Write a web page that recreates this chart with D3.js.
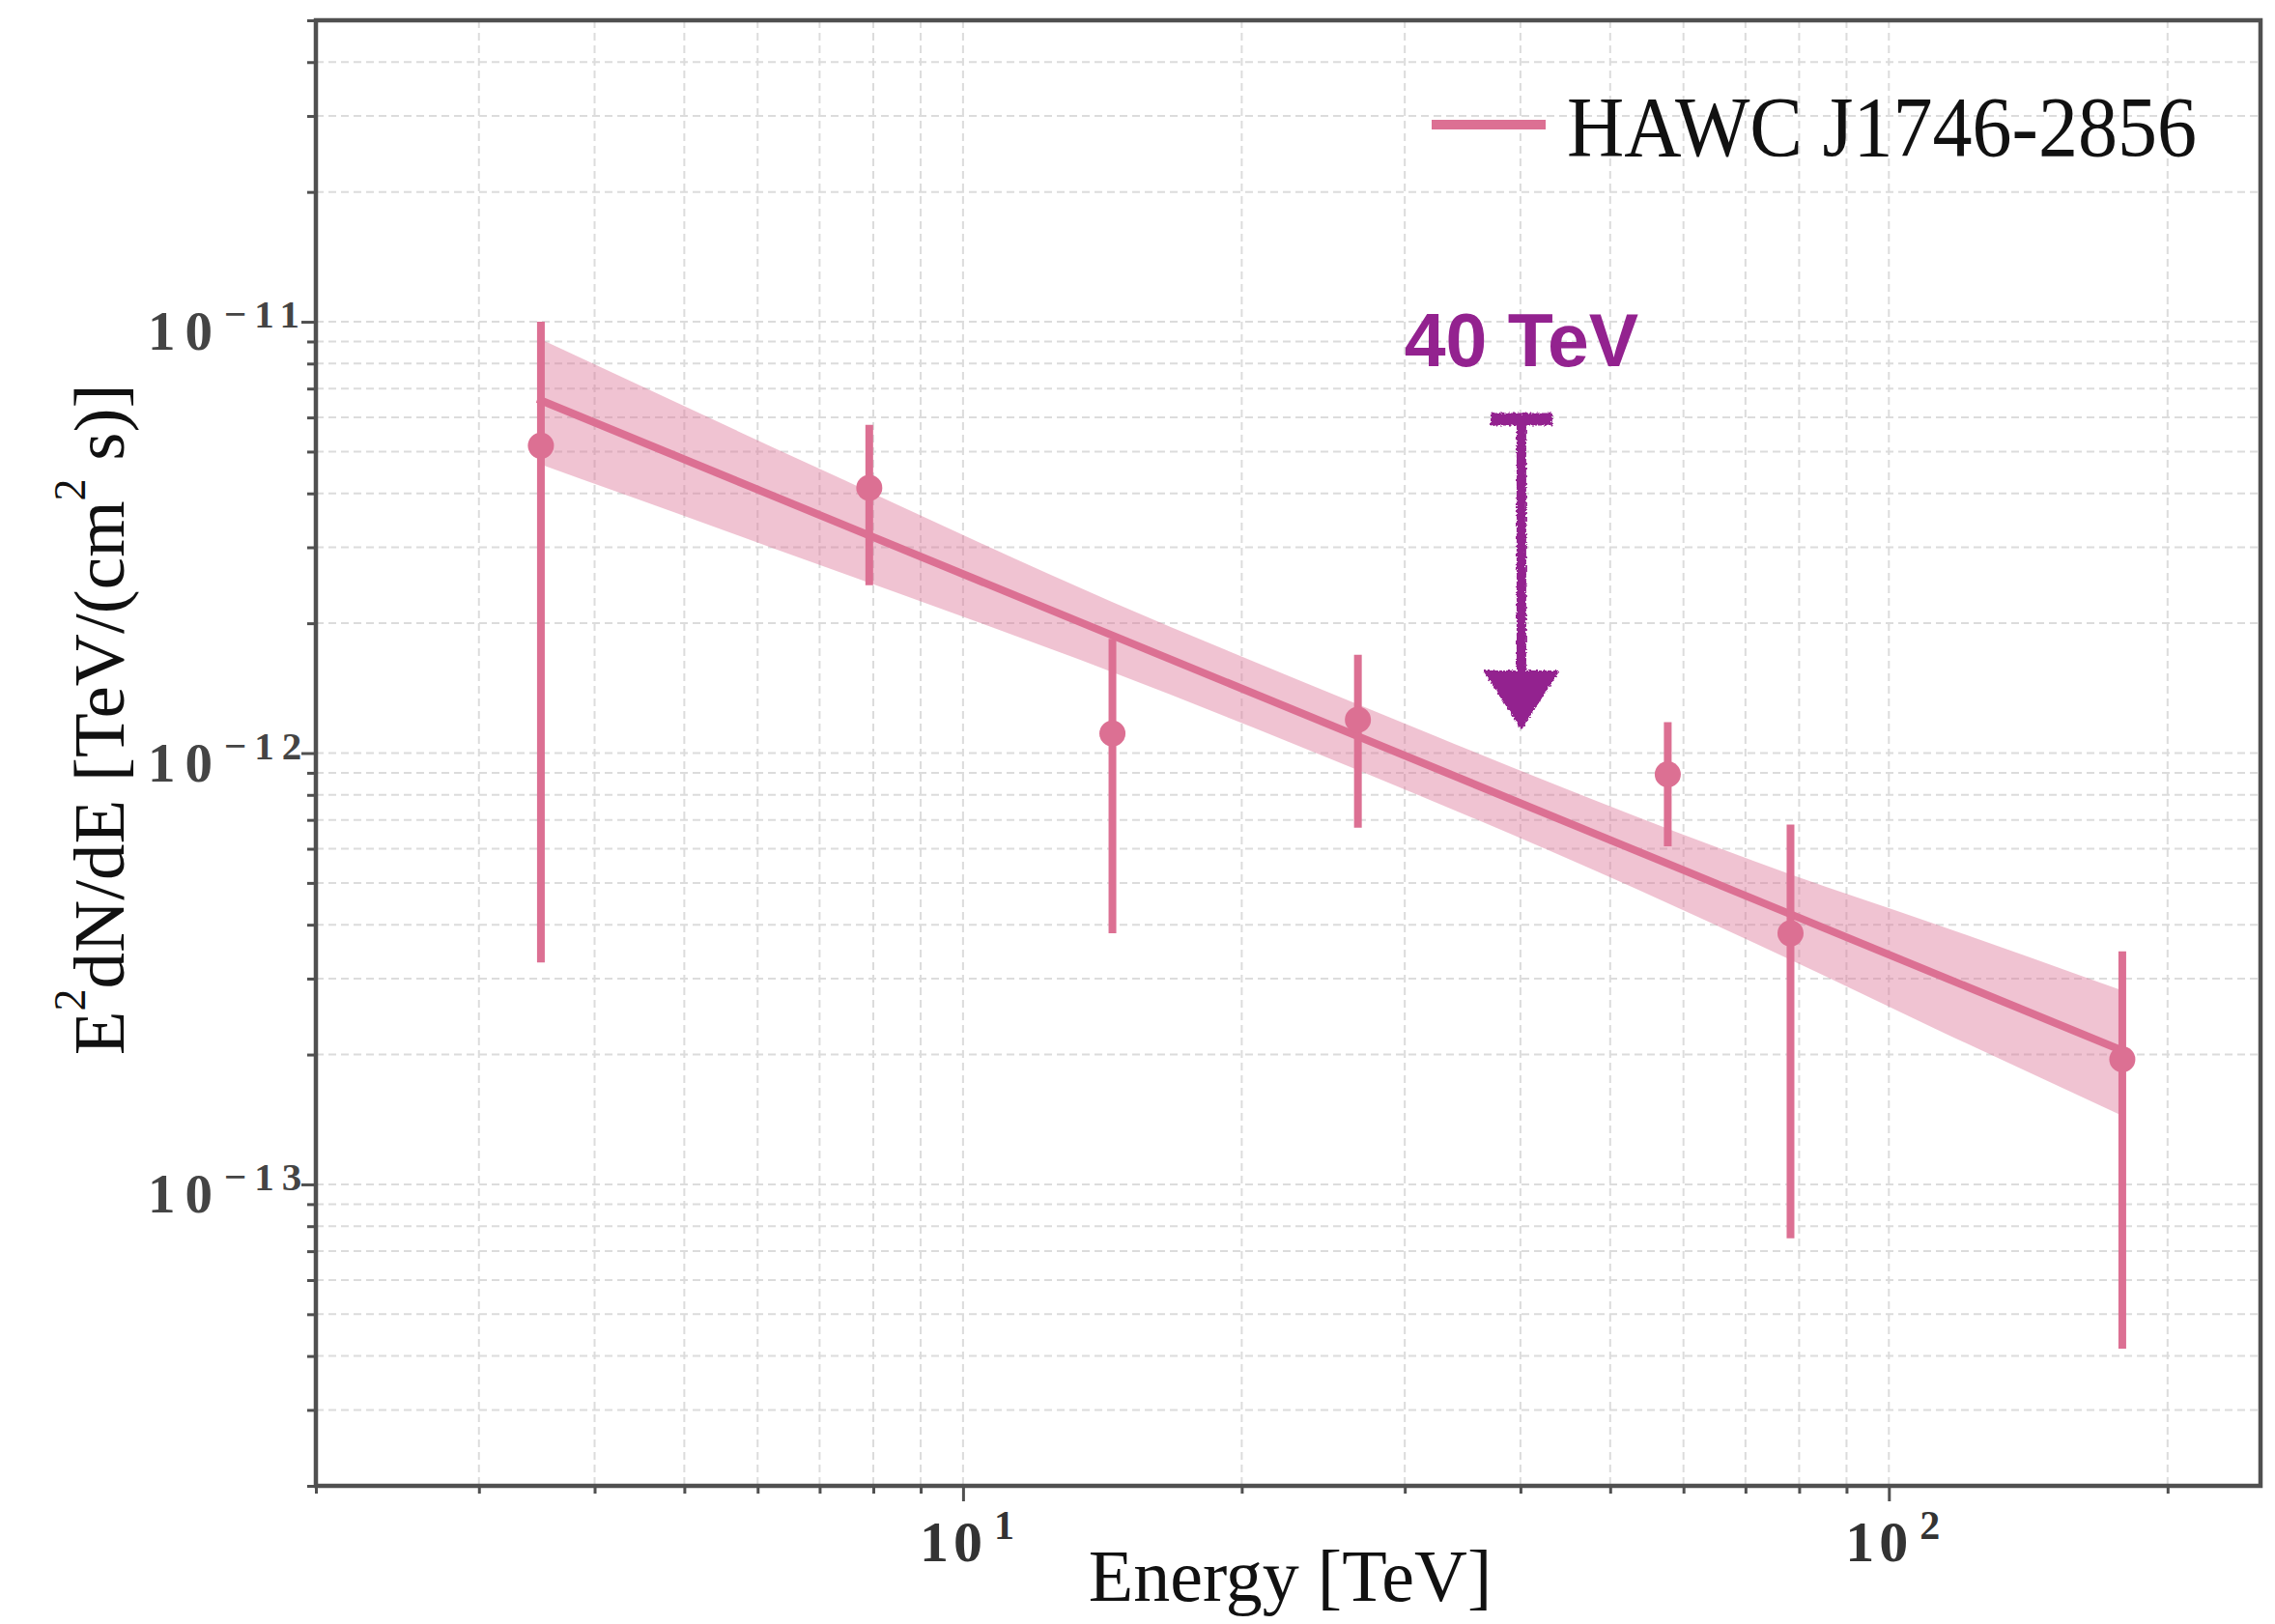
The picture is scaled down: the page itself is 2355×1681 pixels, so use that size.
<!DOCTYPE html>
<html><head><meta charset="utf-8">
<script src="https://cdn.jsdelivr.net/npm/d3@7/dist/d3.min.js"></script>
<style>html,body{margin:0;padding:0;background:#fff}svg{display:block}</style>
</head><body>
<script>
// ---------- data ----------
const energy   = [3.5, 7.92, 14.5, 26.7, 57.7, 78.3, 178.7];
const flux     = [5.16e-12, 4.12e-12, 1.11e-12, 1.195e-12, 8.93e-13, 3.82e-13, 1.95e-13];
const fluxHigh = [1.0e-11, 5.77e-12, 1.84e-12, 1.69e-12, 1.18e-12, 6.83e-13, 3.47e-13];
const fluxLow  = [3.27e-13, 2.45e-12, 3.82e-13, 6.71e-13, 6.08e-13, 7.5e-14, 4.16e-14];

const fitE     = [3.47, 179];
const fitFlux  = [6.62e-12, 2.04e-13];

const bandE     = [3.5, 7, 14.5, 27, 43, 78, 112, 179];
const bandUpper = [9.1e-12, 4.56e-12, 2.24e-12, 1.285e-12, 8.56e-13, 5.25e-13, 4.02e-13, 2.81e-13];
const bandLower = [4.67e-12, 2.73e-12, 1.54e-12, 9.04e-13, 5.94e-13, 3.33e-13, 2.30e-13, 1.44e-13];

const arrowE = [40];
const arrowFlux = [6.0e-12, 1.15e-12];   // top bar, tip
const arrowLabel = ["40 TeV"];

const xDomain = [2, 252];
const yDomain = [2e-14, 5e-11];
const xMajorTicks = [10, 100];
const xMinorTicks = [2,3,4,5,6,7,8,9,20,30,40,50,60,70,80,90,200];
const xTickBase = ["10", "10"];
const xTickExp  = ["1", "2"];
const yMajorTicks = [1e-13, 1e-12, 1e-11];
const yMinorTicks = [2e-14,3e-14,4e-14,5e-14,6e-14,7e-14,8e-14,9e-14,
                     2e-13,3e-13,4e-13,5e-13,6e-13,7e-13,8e-13,9e-13,
                     2e-12,3e-12,4e-12,5e-12,6e-12,7e-12,8e-12,9e-12,
                     2e-11,3e-11,4e-11,5e-11];
const yTickBase = ["10", "10", "10"];
const yTickExp  = ["\u221213", "\u221212", "\u221211"];
const seriesName = ["HAWC J1746-2856"];
const xTitle = ["Energy [TeV]"];

// ---------- layout ----------
const W = 2355, H = 1681;
const L = 327, R = 2340, T = 21, B = 1538;
const pink = "#dc7093";
const purple = "#93228f";
const serif = "'Liberation Serif','Times New Roman',serif";
const sans = "'Liberation Sans',Arial,sans-serif";

const svg = d3.select("body").append("svg").attr("width", W).attr("height", H);

const defs = svg.append("defs");
const f = defs.append("filter").attr("id","rough").attr("x","-20%").attr("y","-10%").attr("width","140%").attr("height","120%");
f.append("feTurbulence").attr("type","fractalNoise").attr("baseFrequency","0.45").attr("numOctaves","2").attr("seed","3").attr("result","n");
f.append("feDisplacementMap").attr("in","SourceGraphic").attr("in2","n").attr("scale","5").attr("xChannelSelector","R").attr("yChannelSelector","G");

const x = d3.scaleLog().domain(xDomain).range([L, R]);
const y = d3.scaleLog().domain(yDomain).range([B, T]);

// ---------- grid ----------
const grid = svg.append("g");
grid.selectAll("line.v").data(xMinorTicks.concat(xMajorTicks).filter(d => d > xDomain[0])).enter()
  .append("line").attr("x1", d => x(d)).attr("x2", d => x(d)).attr("y1", T).attr("y2", B)
  .attr("stroke", "#dcdcdc").attr("stroke-width", 2).attr("stroke-dasharray", "8,5");
grid.selectAll("line.h").data(yMinorTicks.concat(yMajorTicks).filter(d => d < yDomain[1])).enter()
  .append("line").attr("y1", d => y(d)).attr("y2", d => y(d)).attr("x1", L).attr("x2", R)
  .attr("stroke", "#dcdcdc").attr("stroke-width", 2).attr("stroke-dasharray", "8,5");

// ---------- band ----------
const bandData = bandE.map((e, i) => ({e, hi: bandUpper[i], lo: bandLower[i]}));
svg.append("path").datum(bandData)
  .attr("d", d3.area().x(d => x(d.e)).y0(d => y(d.lo)).y1(d => y(d.hi)).curve(d3.curveMonotoneX))
  .attr("fill", pink).attr("fill-opacity", 0.42);

// ---------- fit line ----------
svg.append("path").datum(fitE.map((e, i) => ({e, v: fitFlux[i]})))
  .attr("d", d3.line().x(d => x(d.e)).y(d => y(d.v)))
  .attr("fill", "none").attr("stroke", pink).attr("stroke-width", 8);

// ---------- error bars & points ----------
const pts = energy.map((e, i) => ({e, v: flux[i], hi: fluxHigh[i], lo: fluxLow[i]}));
svg.selectAll("line.err").data(pts).enter().append("line")
  .attr("x1", d => x(d.e)).attr("x2", d => x(d.e)).attr("y1", d => y(d.hi)).attr("y2", d => y(d.lo))
  .attr("stroke", pink).attr("stroke-width", 8);
svg.selectAll("circle.pt").data(pts).enter().append("circle")
  .attr("cx", d => x(d.e)).attr("cy", d => y(d.v)).attr("r", 13.5).attr("fill", pink);

// ---------- frame ----------
svg.append("rect").attr("x", L).attr("y", T).attr("width", R - L).attr("height", B - T)
  .attr("fill", "none").attr("stroke", "#505050").attr("stroke-width", 4.5);

// ---------- axes ----------
function styleAxis(g){ g.select(".domain").remove(); g.selectAll(".tick line").attr("stroke", "#505050").attr("stroke-width", 3); }
svg.append("g").attr("transform", `translate(${L},0)`)
  .call(d3.axisLeft(y).tickValues(yMinorTicks).tickSize(9).tickFormat("")).call(styleAxis);
svg.append("g").attr("transform", `translate(${L},0)`)
  .call(d3.axisLeft(y).tickValues(yMajorTicks).tickSize(15).tickFormat("")).call(styleAxis);
svg.append("g").attr("transform", `translate(0,${B})`)
  .call(d3.axisBottom(x).tickValues(xMinorTicks).tickSize(8).tickFormat("")).call(styleAxis);
svg.append("g").attr("transform", `translate(0,${B})`)
  .call(d3.axisBottom(x).tickValues(xMajorTicks).tickSize(16).tickFormat("")).call(styleAxis);

// y tick labels
yMajorTicks.forEach((v, i) => {
  const yy = y(v);
  svg.append("text").attr("x", 153).attr("y", yy + 29)
    .attr("font-family", serif).attr("font-weight", "bold").attr("font-size", 57)
    .attr("letter-spacing", 10).attr("fill", "#444").text(yTickBase[i]);
  svg.append("text").attr("x", 232).attr("y", yy + 6)
    .attr("font-family", serif).attr("font-weight", "bold").attr("font-size", 41)
    .attr("letter-spacing", 8).attr("fill", "#444").text(yTickExp[i]);
});
// x tick labels
xMajorTicks.forEach((v, i) => {
  const xx = x(v);
  svg.append("text").attr("x", xx - 45).attr("y", 1616)
    .attr("font-family", serif).attr("font-weight", "bold").attr("font-size", 60)
    .attr("letter-spacing", 5).attr("fill", "#333").text(xTickBase[i]);
  svg.append("text").attr("x", xx + 32).attr("y", 1593)
    .attr("font-family", serif).attr("font-weight", "bold").attr("font-size", 42)
    .attr("fill", "#333").text(xTickExp[i]);
});

// axis titles
svg.append("text").attr("x", (L + R) / 2 + 2).attr("y", 1657).attr("text-anchor", "middle")
  .attr("font-family", serif).attr("font-size", 76).attr("fill", "#111").text(xTitle[0]);

const yt = svg.append("text").attr("transform", "translate(128,745) rotate(-90)")
  .attr("text-anchor", "middle").attr("font-family", serif).attr("font-size", 75).attr("fill", "#111");
yt.append("tspan").text("E");
yt.append("tspan").attr("dy", -40).attr("font-size", 46).text("2");
yt.append("tspan").attr("dy", 40).text("dN/dE [TeV/(cm");
yt.append("tspan").attr("dy", -40).attr("font-size", 46).text("2");
yt.append("tspan").attr("dy", 40).text(" s)]");

// ---------- legend ----------
svg.append("line").attr("x1", 1482).attr("x2", 1600).attr("y1", 129).attr("y2", 129)
  .attr("stroke", pink).attr("stroke-width", 10);
svg.append("text").attr("x", 1622).attr("y", 161).attr("font-family", serif).attr("font-size", 88)
  .attr("textLength", 652).attr("lengthAdjust", "spacingAndGlyphs").attr("fill", "#111").text(seriesName[0]);

// ---------- 40 TeV annotation ----------
const ax = x(arrowE[0]);
const yTop = y(arrowFlux[0]), yTip = y(arrowFlux[1]);
svg.append("text").attr("x", ax + 1).attr("y", yTop - 53).attr("text-anchor", "middle")
  .attr("font-family", sans).attr("font-weight", "bold").attr("font-size", 77)
  .attr("fill", purple).text(arrowLabel[0]);
const ar = svg.append("g").attr("filter", "url(#rough)").attr("fill", purple).attr("stroke", purple);
ar.append("line").attr("x1", ax - 31).attr("x2", ax + 33).attr("y1", yTop + 2).attr("y2", yTop + 2)
  .attr("stroke-width", 13);
ar.append("line").attr("x1", ax + 1).attr("x2", ax + 1).attr("y1", yTop).attr("y2", yTip - 52)
  .attr("stroke-width", 10);
ar.append("path").attr("stroke-width", 3)
  .attr("d", `M${ax - 36},${yTip - 57} L${ax + 38},${yTip - 57} L${ax + 1},${yTip} Z`);
</script>
</body></html>
